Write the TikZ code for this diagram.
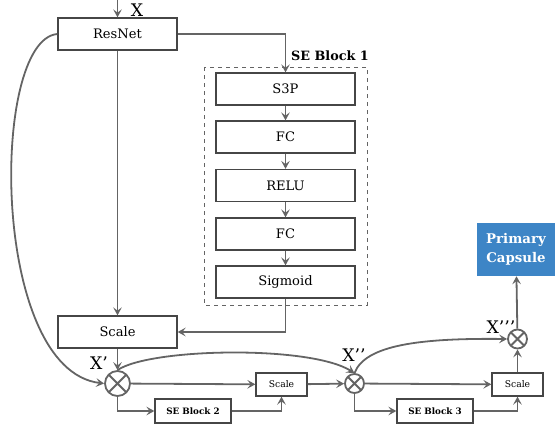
\documentclass[tikz,border=0pt]{standalone}
\usepackage{fontspec}
\setmainfont{DejaVu Serif}
\usetikzlibrary{arrows.meta}
\definecolor{lineg}{RGB}{100,100,100}
\definecolor{boxg}{RGB}{70,70,70}
\definecolor{capblue}{RGB}{61,133,198}

\begin{document}
\begin{tikzpicture}[x=0.75pt,y=0.75pt,yscale=-1,xscale=1,
  arr/.style={draw=lineg, line width=1.35pt, -{Stealth[length=6pt,width=6.5pt,inset=2.5pt]}},
  bigbox/.style={draw=boxg, line width=1pt, minimum width=89.25pt, minimum height=24pt, inner sep=0pt, font=\fontsize{9.8}{11}\selectfont},
  sebox/.style={draw=boxg, line width=1pt, minimum width=104.25pt, minimum height=24pt, inner sep=0pt, font=\fontsize{9.8}{11}\selectfont},
  smallbox/.style={draw=boxg, line width=1pt, minimum width=38.25pt, minimum height=17.25pt, inner sep=0pt, font=\fontsize{6.9}{8}\selectfont},
  blockbox/.style={draw=boxg, line width=1pt, minimum width=57pt, minimum height=18pt, inner sep=0pt, font=\bfseries\fontsize{6.6}{8}\selectfont},
  mul/.style={circle, draw=lineg, line width=1.35pt, inner sep=0pt,
    path picture={\draw[lineg, line width=1.35pt] (path picture bounding box.north west) -- (path picture bounding box.south east) (path picture bounding box.north east) -- (path picture bounding box.south west);}},
  xlabel/.style={font=\fontsize{13}{15}\selectfont}]
\useasboundingbox (0,0) rectangle (556,435);

%Shape: Rectangle [id:resnet]
\node (resnet) [bigbox] at (117.5,34) {ResNet};
\coordinate (xin) at (117.5,0);
\draw (137,10) node [xlabel] {X};

%Shape: Rectangle [id:se1]
\draw [draw=lineg, dashed, line width=0.7pt] (204,67) rectangle (367,305);
\draw (330,56) node [font=\bfseries\fontsize{9.6}{11}\selectfont] {SE Block 1};
\node (s3p) [sebox] at (285.5,89) {S3P};
\node (fca) [sebox] at (285.5,137) {FC};
\node (relu) [sebox] at (285.5,185.5) {RELU};
\node (fcb) [sebox] at (285.5,234) {FC};
\node (sig) [sebox] at (285.5,282) {Sigmoid};

%Shape: Rectangle [id:scale1]
\node (scale1) [bigbox] at (117.5,332) {Scale};

%Shape: Circle [id:mul1]
\node (mul1) [mul, minimum size=18.75pt] at (117.5,383.5) {};
\draw (99,363) node [xlabel] {X’};
\node (scale2) [smallbox] at (281.5,384.5) {Scale};
\node (se2) [blockbox] at (193,411) {SE Block 2};

%Shape: Circle [id:mul2]
\node (mul2) [mul, minimum size=14.25pt] at (354.5,383.5) {};
\draw (354,355) node [xlabel] {X’’};
\node (scale3) [smallbox] at (517.5,384.5) {Scale};
\node (se3) [blockbox] at (435,411) {SE Block 3};

%Shape: Circle [id:mul3]
\node (mul3) [mul, minimum size=14.25pt] at (517.5,339) {};
\draw (501,327) node [xlabel] {X’’’};

%Shape: Rectangle [id:caps]
\node (caps) [fill=capblue, text=white, minimum width=58.5pt, minimum height=39.75pt, inner sep=0pt, align=center, font=\bfseries\fontsize{10}{14}\selectfont] at (516,249.5) {Primary\\Capsule};

%Straight Lines
\draw [arr] (xin) -- (resnet);
\draw [arr] (resnet.east) -| (s3p.north);
\draw [arr] (s3p) -- (fca);
\draw [arr] (fca) -- (relu);
\draw [arr] (relu) -- (fcb);
\draw [arr] (fcb) -- (sig);
\draw [arr] (resnet) -- (scale1);
\draw [arr] (sig.south) |- (scale1.east);
\draw [arr] (scale1) -- (mul1);
\draw [arr] (mul1) -- (scale2);
\draw [arr] (mul1.south) |- (se2.west);
\draw [arr] (se2.east) -| (scale2.south);
\draw [arr] (scale2) -- (mul2);
\draw [arr] (mul2) -- (scale3);
\draw [arr] (mul2.south) |- (se3.west);
\draw [arr] (se3.east) -| (scale3.south);
\draw [arr] (scale3) -- (mul3);
\draw [arr] (mul3) -- (caps);

%Curve Lines
\draw [arr] (resnet.west) .. controls (-10,40) and (-10,370) .. (mul1.west);
\draw [arr] (mul1.north) .. controls (150,348) and (310,345) .. (mul2.north);
\draw [arr] (mul2.north) .. controls (365,345) and (420,338) .. (mul3.west);
\end{tikzpicture}
\end{document}
